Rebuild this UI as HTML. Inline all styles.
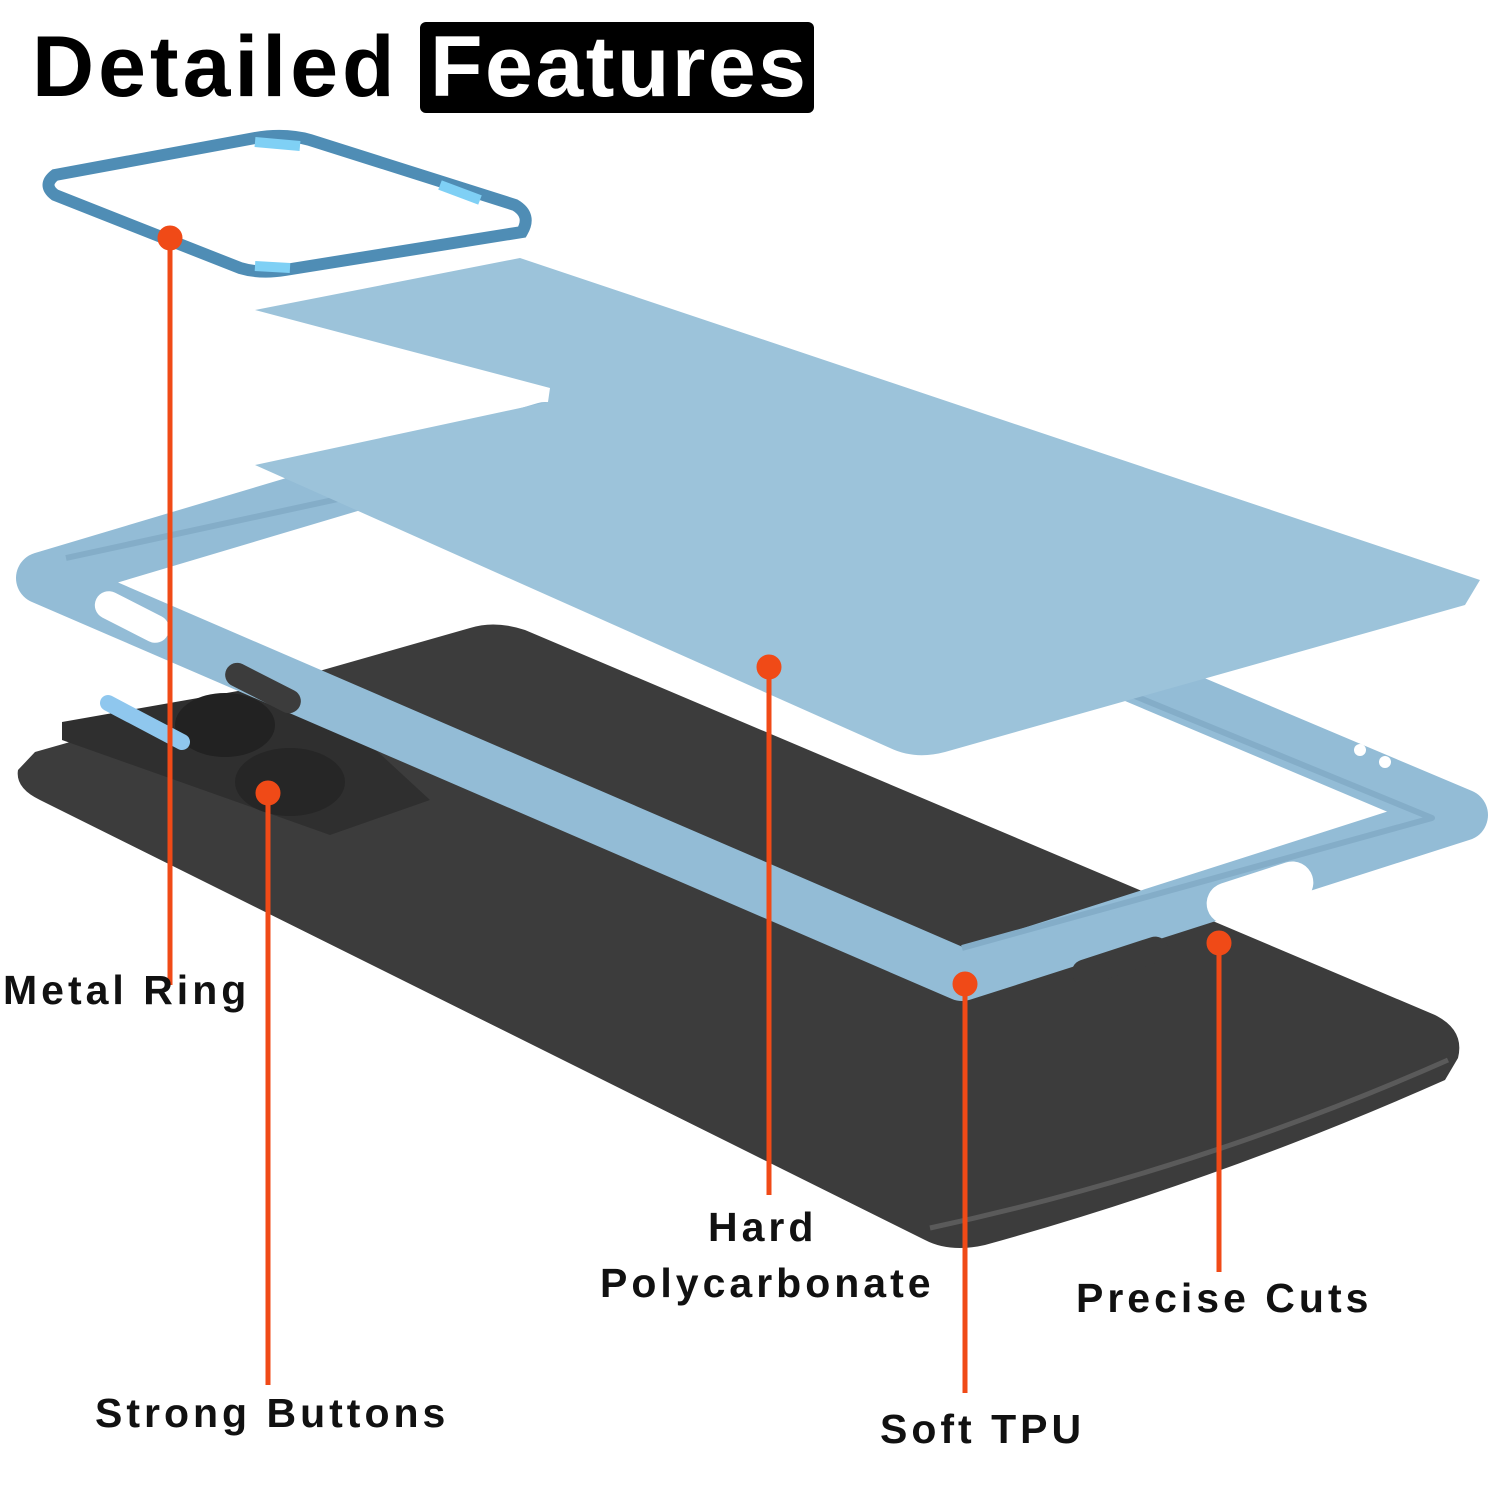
<!DOCTYPE html>
<html><head><meta charset="utf-8"><style>
html,body{margin:0;padding:0;background:#fff;}
body{width:1500px;height:1500px;position:relative;overflow:hidden;font-family:"Liberation Sans",sans-serif;}
.t{position:absolute;font-weight:bold;color:#000;}
.lbl{position:absolute;font-weight:bold;font-size:41px;letter-spacing:4px;color:#111;white-space:nowrap;line-height:1;}
</style></head><body>
<svg width="1500" height="1500" style="position:absolute;left:0;top:0">
  <!-- phone -->
  <path d="M35,752 L470,628 Q495,620 525,630 L1435,1015 Q1465,1030 1458,1058 L1445,1080 Q1220,1180 985,1245 Q950,1253 925,1240 L40,800 Q15,788 18,770 Z" fill="#3c3c3c"/>
  <path d="M930,1228 Q1200,1170 1448,1060" stroke="#5a5a5a" stroke-width="5" fill="none"/>
  <!-- camera module -->
  <path d="M62,722 L300,680 L430,800 L330,835 L62,740 Z" fill="#2f2f2f"/>
  <ellipse cx="225" cy="725" rx="50" ry="32" fill="#222"/>
  <ellipse cx="290" cy="782" rx="55" ry="34" fill="#262626"/>
  <!-- TPU frame -->
  <path d="M42,578 L545,428 L1462,815 L962,975 Z" fill="none" stroke="#93bcd6" stroke-width="52" stroke-linejoin="round"/>
  <path d="M66,558 L545,454 L1432,818 L962,948" fill="none" stroke="#84adc8" stroke-width="6" stroke-linejoin="round"/>
  <!-- frame slots -->
  <rect x="92" y="603" width="80" height="28" rx="14" fill="#fff" transform="rotate(27 132 617)"/>
  <rect x="222" y="676" width="82" height="24" rx="12" fill="#3c3c3c" transform="rotate(27 263 688)"/>
  <rect x="1070" y="948" width="100" height="26" rx="13" fill="#3c3c3c" transform="rotate(-18 1120 961)"/>
  <rect x="1205" y="872" width="110" height="42" rx="21" fill="#fff" transform="rotate(-18 1260 893)"/>
  <circle cx="1360" cy="750" r="6" fill="#fff"/><circle cx="1385" cy="762" r="6" fill="#fff"/>
  <!-- PC sheet -->
  <path d="M255,310 L520,258 L1480,580 L1465,605 L945,752 Q915,760 890,748 L255,465 L548,402 L550,388 Z" fill="#9cc3da"/>
  <!-- metal ring -->
  <path d="M55,175 L255,138 Q285,133 310,140 L515,205 Q532,215 522,232 L285,270 Q260,274 240,268 L55,195 Q42,185 55,175 Z" fill="none" stroke="#4f8db5" stroke-width="12"/>
  <path d="M255,142 L300,146" stroke="#7fd0f5" stroke-width="10"/>
  <path d="M255,266 L290,268" stroke="#7fd0f5" stroke-width="10"/>
  <path d="M440,185 L480,200" stroke="#7fd0f5" stroke-width="10"/>
  <!-- metal button -->
  <line x1="108" y1="703" x2="182" y2="742" stroke="#8fc7ee" stroke-width="16" stroke-linecap="round"/>
  <!-- orange leaders -->
  <g stroke="#f04a17" stroke-width="5" fill="#f04a17">
    <line x1="170" y1="238" x2="170" y2="985"/><circle cx="170" cy="238" r="10"/>
    <line x1="268" y1="793" x2="268" y2="1385"/><circle cx="268" cy="793" r="10"/>
    <line x1="769" y1="667" x2="769" y2="1195"/><circle cx="769" cy="667" r="10"/>
    <line x1="965" y1="984" x2="965" y2="1393"/><circle cx="965" cy="984" r="10"/>
    <line x1="1219" y1="943" x2="1219" y2="1272"/><circle cx="1219" cy="943" r="10"/>
  </g>
</svg>
<div class="t" style="left:32px;top:18px;font-size:86px;letter-spacing:4px;">Detailed</div>
<div style="position:absolute;left:420px;top:22px;width:394px;height:91px;background:#000;border-radius:6px;"></div>
<div class="t" style="left:430px;top:18px;font-size:86px;color:#fff;letter-spacing:2.5px;">Features</div>
<div class="lbl" style="left:3px;top:970px;">Metal Ring</div>
<div class="lbl" style="left:95px;top:1393px;">Strong Buttons</div>
<div class="lbl" style="left:708px;top:1207px;">Hard</div>
<div class="lbl" style="left:600px;top:1263px;">Polycarbonate</div>
<div class="lbl" style="left:1076px;top:1278px;">Precise Cuts</div>
<div class="lbl" style="left:880px;top:1409px;">Soft TPU</div>
</body></html>
